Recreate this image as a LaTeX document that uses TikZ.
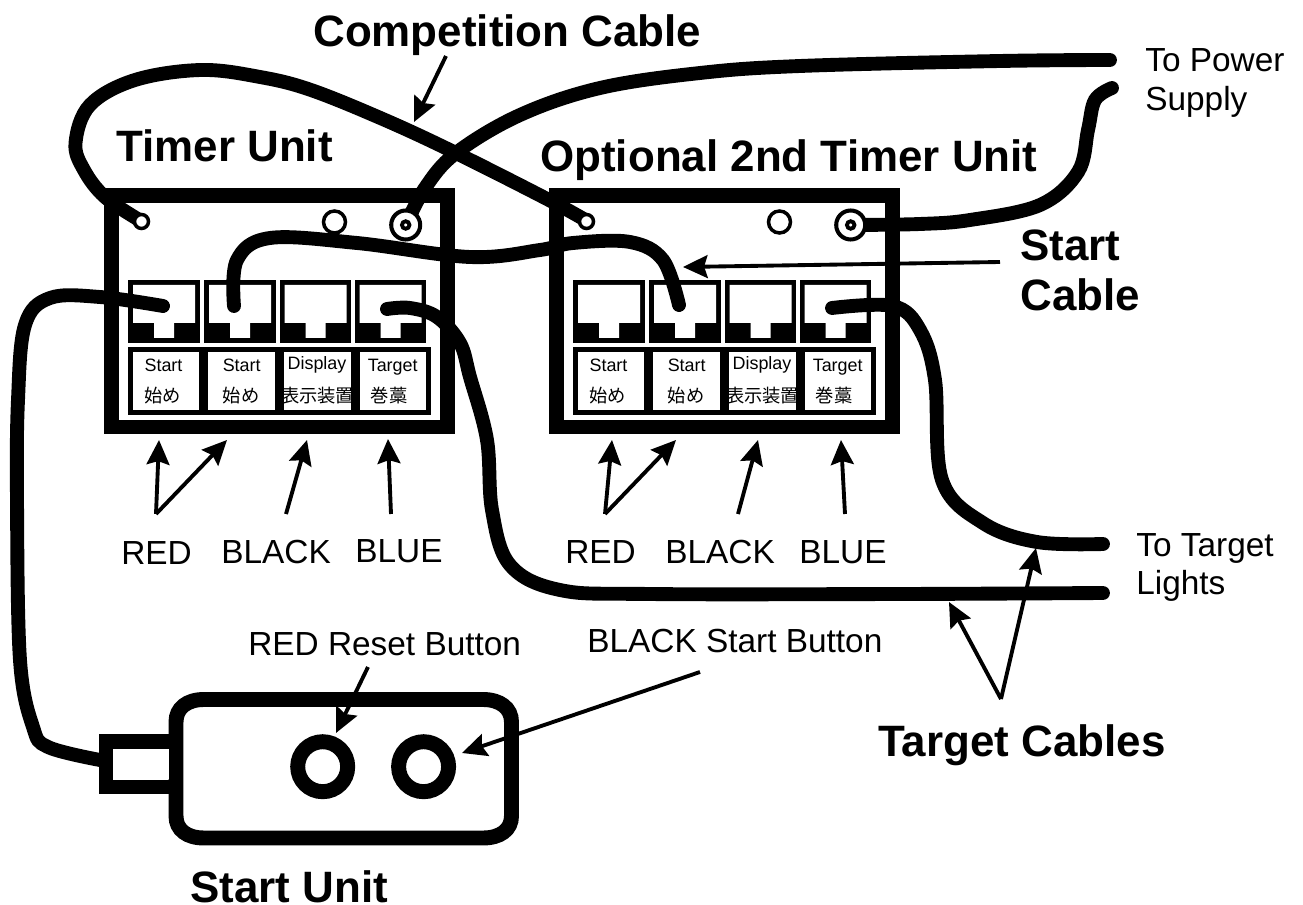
\documentclass[tikz,border=0pt]{standalone}
\usepackage{fontspec}
\setmainfont{Liberation Sans}
\newfontfamily\cjk{Noto Sans CJK JP}
\usetikzlibrary{arrows.meta}
\tikzset{
  cable/.style={line width=7.9pt, line cap=round},
  frame/.style={draw, line width=8.5pt, minimum width=6.72cm, minimum height=4.63cm, inner sep=0pt},
  port/.style={fill=black, minimum width=1.44cm, minimum height=1.26cm, inner sep=0pt},
  panel/.style={fill=black, minimum width=6.06cm, minimum height=1.36cm, inner sep=0pt},
  cell/.style={fill=white, minimum width=1.34cm, minimum height=1.166cm, inner sep=0pt},
  pointer/.style={-{Stealth[length=14pt, width=13pt, inset=2pt]}, line width=2.2pt},
  heading/.style={font=\fontsize{25}{25}\selectfont\bfseries, anchor=base west, inner sep=0pt},
  caption/.style={font=\fontsize{19}{19}\selectfont, anchor=base west, inner sep=0pt},
  celltext/.style={font=\fontsize{10.2}{10.2}\selectfont, anchor=base, inner sep=0pt},
  cjktext/.style={font=\fontsize{10.4}{10.4}\selectfont\cjk, inner sep=0pt},
  smalljack/.style={circle, draw, fill=white, line width=2pt, minimum size=0.28cm, inner sep=0pt},
  midjack/.style={circle, draw, fill=white, line width=2pt, minimum size=0.44cm, inner sep=0pt},
  coaxjack/.style={circle, draw, fill=white, line width=2.3pt, minimum size=0.58cm, inner sep=0pt},
  coaxpin/.style={circle, draw, fill=white, line width=2.2pt, minimum size=0.15cm, inner sep=0pt},
  button/.style={circle, draw, fill=white, line width=8.5pt, minimum size=1cm, inner sep=0pt}
}
\begin{document}
\begin{tikzpicture}[x=0.02cm, y=-0.02cm]

  % Page
  \fill[white, use as bounding box] (0,0) rectangle (1303,905);

  % Timer units
  \foreach \ux/\un in {0/a,445/b} {
    \begin{scope}[xshift=\ux*0.02cm]
      \node[frame] (timer\un) at (279.5,311.25) {};
      \node[panel] (panel\un) at (279.7,380.8) {};
      \foreach \px/\pn in {128/1,204/2,279.5/3,354.5/4} {
        \node[port] (port\un\pn) at ({\px+36},311.5) {};
        \fill[white] ({\px+5},285) -- ({\px+67},285) -- ({\px+67},323) -- ({\px+46},323)
          -- ({\px+46},338) -- ({\px+26},338) -- ({\px+26},323) -- ({\px+5},323) -- cycle;
      }
      \foreach \cx/\cn/\tx/\ty/\word/\jx/\jword in {
        166/1/163.5/372/Start/162.5/始め,
        241.7/2/241.7/372/Start/241/始め,
        317.3/3/317/370/Display/317.7/表示装置,
        393/4/392.7/372/Target/389/巻藁} {
        \node[cell] (cell\un\cn) at (\cx,380.8) {};
        \node[celltext] (word\un\cn) at (\tx,\ty) {\word};
        \node[cjktext] (kanji\un\cn) at (\jx,396) {\jword};
      }
    \end{scope}
  }

  % Start unit
  \draw[line width=8.5pt] (106,741.5) rectangle (176,787);
  \draw[line width=8.5pt, fill=white] (204,699.5) -- (483,699.5)
    .. controls (500,699.5) and (511.5,708) .. (511.5,722) -- (511.5,816)
    .. controls (511.5,830) and (500,838) .. (483,838) -- (204,838)
    .. controls (187,838) and (176,830) .. (176,816) -- (176,722)
    .. controls (176,708) and (187,699.5) .. (204,699.5) -- cycle;
  \fill[white] (114,749) rectangle (169,779);
  \node[button] (reset) at (322.7,766.7) {};
  \node[button] (start) at (423.6,766.7) {};

  % Cable ends
  \coordinate (compa) at (141,221);
  \coordinate (compb) at (587,221);
  \coordinate (coaxa) at (406,225);
  \coordinate (coaxb) at (851,225);
  \coordinate (powerup) at (1110,60);
  \coordinate (powerdn) at (1112,88);
  \coordinate (plugstart) at (163,306);
  \coordinate (plugunit) at (100,760);
  \coordinate (linka) at (234,306);
  \coordinate (linkb) at (679,305);
  \coordinate (targeta) at (387,309);
  \coordinate (targetb) at (832,308);
  \coordinate (lightup) at (1103,544);
  \coordinate (lightdn) at (1103,593);

  % Competition cable
  \draw[cable] plot[smooth, tension=0.6] coordinates {(compa) (105,197) (84,170) (75.5,143) (90,105) (135,80)
    (201,70) (260,77) (311,90) (385,120) (456,153) (549,200) (compb)};

  % Power cables
  \draw[cable] plot[smooth, tension=0.6] coordinates {(coaxa) (425,188) (456,153) (520,115) (600,88) (700,73)
    (800,66) (1000,61) (powerup)};
  \draw[cable] plot[smooth, tension=0.6] coordinates {(coaxb) (920,224) (970,220) (1040,205) (1078,172) (1088,130)
    (1095,100) (powerdn)};

  % Start cables
  \draw[cable] plot[smooth, tension=0.6] coordinates {(plugstart) (100,297) (50,298) (25,325) (18,400) (17,500)
    (20,660) (33,727) (48,747) (plugunit)};
  \draw[cable] plot[smooth, tension=0.6] coordinates {(linka) (237,260) (270,238) (357,243) (470,257) (540,250)
    (573,243) (630,242) (663,260) (linkb)};

  % Target cables
  \draw[cable] plot[smooth, tension=0.6] coordinates {(targeta) (410,308) (437,317) (460,343) (470,377) (487,440)
    (492,510) (510,565) (560,590) (650,594) (900,594) (lightdn)};
  \draw[cable] plot[smooth, tension=0.6] coordinates {(targetb) (893,306) (920,330) (935,380) (942,480) (983,523)
    (1037,542) (lightup)};

  % Jacks
  \foreach \ux/\un in {0/a,445/b} {
    \begin{scope}[xshift=\ux*0.02cm]
      \node[smalljack] (small\un) at (141.5,221.5) {};
      \node[midjack] (mid\un) at (334.5,222) {};
      \node[coaxjack] (ring\un) at (405.7,225) {};
      \node[coaxpin] (pin\un) at (405.7,225) {};
    \end{scope}
  }

  % Headings
  \node[heading] (comptitle) at (313,46.5) {Competition Cable};
  \node[heading] (timertitle) at (116,162) {Timer Unit};
  \node[heading] (secondtitle) at (540,172) {Optional 2nd Timer Unit};
  \node[heading] (startword) at (1020,261) {Start};
  \node[heading] (cableword) at (1020,311) {Cable};
  \node[heading] (unittitle) at (190,902) {Start Unit};
  \node[heading] (targettitle) at (878,757) {Target Cables};

  % Captions
  \node[caption] (powerone) at (1145,72) {To Power};
  \node[caption] (powertwo) at (1145,111) {Supply};
  \node[caption] (lightone) at (1136,557) {To Target};
  \node[caption] (lighttwo) at (1136,595) {Lights};
  \node[caption] (reda) at (121,565) {RED};
  \node[caption] (blacka) at (221,564) {BLACK};
  \node[caption] (bluea) at (355,563) {BLUE};
  \node[caption] (redb) at (565,564) {RED};
  \node[caption] (blackb) at (665,564) {BLACK};
  \node[caption] (blueb) at (799,564) {BLUE};
  \node[caption] (resetlabel) at (248,656) {RED Reset Button};
  \node[caption] (startlabel) at (587,653) {BLACK Start Button};

  % Pointer ends
  \coordinate (comptail) at (446,56);
  \coordinate (comptip) at (414,122);
  \coordinate (linktail) at (1000,262);
  \coordinate (linktip) at (683,267);
  \coordinate (redatail) at (156,514);
  \coordinate (redatipa) at (159,440);
  \coordinate (redatipb) at (227,440);
  \coordinate (blackatail) at (286,514);
  \coordinate (blackatip) at (307,440);
  \coordinate (blueatail) at (391,514);
  \coordinate (blueatip) at (388,439);
  \coordinate (redbtail) at (605,514);
  \coordinate (redbtipa) at (612,440);
  \coordinate (redbtipb) at (676,440);
  \coordinate (blackbtail) at (738,514);
  \coordinate (blackbtip) at (758,440);
  \coordinate (bluebtail) at (845,514);
  \coordinate (bluebtip) at (841,440);
  \coordinate (resettail) at (368,667);
  \coordinate (resettip) at (336,733);
  \coordinate (starttail) at (700,672);
  \coordinate (starttip) at (462,753);
  \coordinate (lighttail) at (1001,699);
  \coordinate (lighttipa) at (949,602);
  \coordinate (lighttipb) at (1036,548);

  % Pointers
  \draw[pointer] (comptail) -- (comptip);
  \draw[pointer] (linktail) -- (linktip);
  \draw[pointer] (redatail) -- (redatipa);
  \draw[pointer] (redatail) -- (redatipb);
  \draw[pointer] (blackatail) -- (blackatip);
  \draw[pointer] (blueatail) -- (blueatip);
  \draw[pointer] (redbtail) -- (redbtipa);
  \draw[pointer] (redbtail) -- (redbtipb);
  \draw[pointer] (blackbtail) -- (blackbtip);
  \draw[pointer] (bluebtail) -- (bluebtip);
  \draw[pointer] (resettail) -- (resettip);
  \draw[pointer] (starttail) -- (starttip);
  \draw[pointer] (lighttail) -- (lighttipa);
  \draw[pointer] (lighttail) -- (lighttipb);

\end{tikzpicture}
\end{document}
